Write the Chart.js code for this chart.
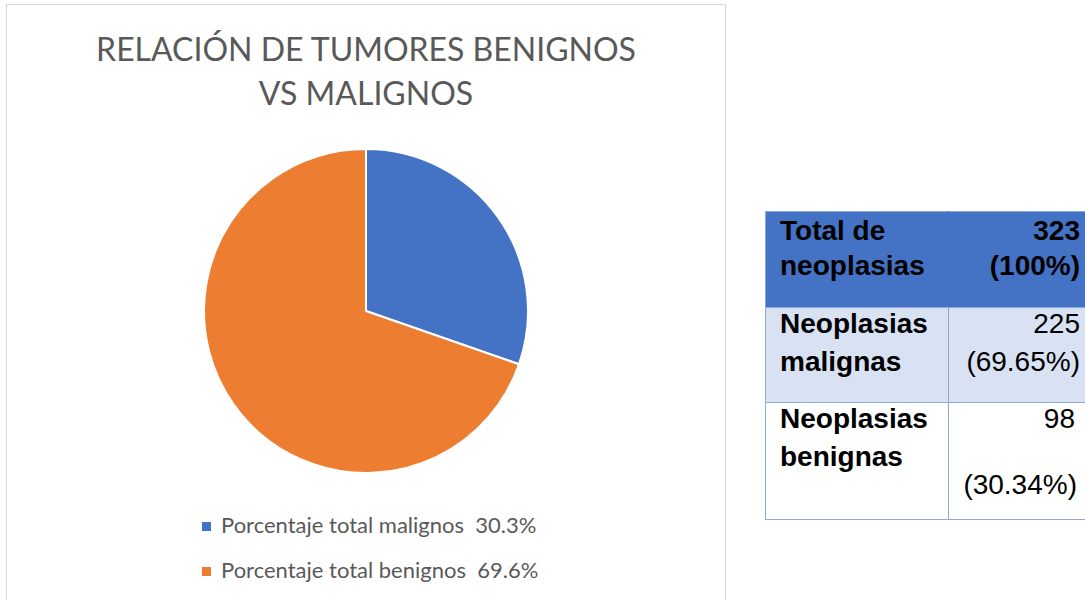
<!DOCTYPE html>
<html>
<head>
<meta charset="utf-8">
<script src="https://cdn.jsdelivr.net/npm/chart.js@4/dist/chart.umd.min.js"></script>
<style>
  html, body { margin: 0; padding: 0; background: #fff; }
  body { width: 1085px; height: 600px; position: relative; overflow: hidden; }
  #box { position: absolute; left: 6px; top: 4px; width: 720px; height: 620px; border: 1px solid #D9D9D9; box-sizing: border-box; }
  #title { position: absolute; left: 0; top: 27px; width: 732px; text-align: center; font-family: Lato, "Open Sans", sans-serif; font-weight: 400; font-size: 32px; line-height: 44px; color: #595959; }
  #pieWrap { position: absolute; left: 200px; top: 145px; width: 332px; height: 332px; }
  #legend { position: absolute; left: 202px; top: 512px; font-family: Lato, "Open Sans", sans-serif; font-size: 22px; color: #595959; }
  .lg-item { position: relative; height: 25px; line-height: 25px; white-space: pre; margin-bottom: 20px; padding-left: 19px; }
  .lg-box { position: absolute; left: 0; top: 10px; width: 9px; height: 9px; }
  #tbl { position: absolute; left: 765px; top: 211px; border-collapse: collapse; font-family: "Liberation Sans", Arial, sans-serif; font-size: 28px; color: #000; table-layout: fixed; width: 323px; }
  #tbl td { border: 1px solid #8EAADB; vertical-align: top; padding: 0; overflow: visible; }
  #tbl td.l { width: 168px; padding-left: 14px; font-weight: bold; }
  #tbl td.r { text-align: right; padding-right: 7px; }
</style>
</head>
<body>
<div id="box"></div>
<div id="title"></div>
<div id="pieWrap"><canvas id="pie" width="332" height="332"></canvas></div>
<div id="legend"></div>
<table id="tbl"></table>
<script>
// ---- Data ----
const chartTitle = ["RELACIÓN DE TUMORES BENIGNOS", "VS MALIGNOS"];
const categories = ["Porcentaje total malignos", "Porcentaje total benignos"];
const percentValues = [30.3, 69.6];
const sliceColors = ["#4472C4", "#ED7D31"];

const tableLabels = [["Total de", "neoplasias"], ["Neoplasias", "malignas"], ["Neoplasias", "benignas"]];
const tableCounts = [323, 225, 98];
const tablePercents = ["100%", "69.65%", "30.34%"];

// ---- Title ----
document.getElementById('title').innerHTML = chartTitle.map(t => '<div>' + t + '</div>').join('');

// ---- Pie ----
const chart = new Chart(document.getElementById('pie'), {
  type: 'pie',
  data: {
    labels: categories,
    datasets: [{
      data: percentValues,
      backgroundColor: sliceColors,
      borderColor: '#ffffff',
      borderWidth: 2
    }]
  },
  options: {
    responsive: false,
    animation: false,
    maintainAspectRatio: false,
    layout: { padding: 3 },
    plugins: {
      legend: { display: false },
      tooltip: { enabled: false },
      title: { display: false }
    }
  }
});

// ---- Legend (from chart's generated labels) ----
const legendEl = document.getElementById('legend');
const items = Chart.overrides.pie.plugins.legend.labels.generateLabels(chart);
items.forEach((it, i) => {
  const d = document.createElement('div');
  d.className = 'lg-item';
  const b = document.createElement('span');
  b.className = 'lg-box';
  b.style.background = it.fillStyle;
  d.appendChild(b);
  d.appendChild(document.createTextNode(it.text + '  ' + percentValues[i] + '%'));
  legendEl.appendChild(d);
});

// ---- Table ----
const tbl = document.getElementById('tbl');
const rowHeights = [96, 95, 117];
const rowBgs = ['#4472C4', '#D9E2F3', '#FFFFFF'];
tableLabels.forEach((lab, i) => {
  const tr = document.createElement('tr');
  tr.style.height = rowHeights[i] + 'px';
  tr.style.background = rowBgs[i];
  const lh = i === 0 ? 35 : 38;
  const mt = i === 0 ? 1 : -3;
  const l = document.createElement('td');
  l.className = 'l';
  l.innerHTML = '<div style="line-height:' + lh + 'px;margin-top:' + mt + 'px">' + lab.join('<br>') + '</div>';
  const r = document.createElement('td');
  r.className = 'r';
  if (i === 0) {
    r.style.fontWeight = 'bold';
    r.style.borderLeftColor = '#4472C4';
    l.style.borderRightColor = '#4472C4';
  }
  const pr1 = i === 2 ? 'padding-right:5px;' : '';
  const pr2 = i === 2 ? 'padding-right:3px;margin-top:28px;' : '';
  let inner = '<div style="line-height:' + lh + 'px;margin-top:' + mt + 'px;' + pr1 + '">' + tableCounts[i] + '</div>';
  inner += '<div style="line-height:' + lh + 'px;' + pr2 + '">(' + tablePercents[i] + ')</div>';
  r.innerHTML = inner;
  tr.appendChild(l);
  tr.appendChild(r);
  tbl.appendChild(tr);
});
</script>
</body>
</html>
